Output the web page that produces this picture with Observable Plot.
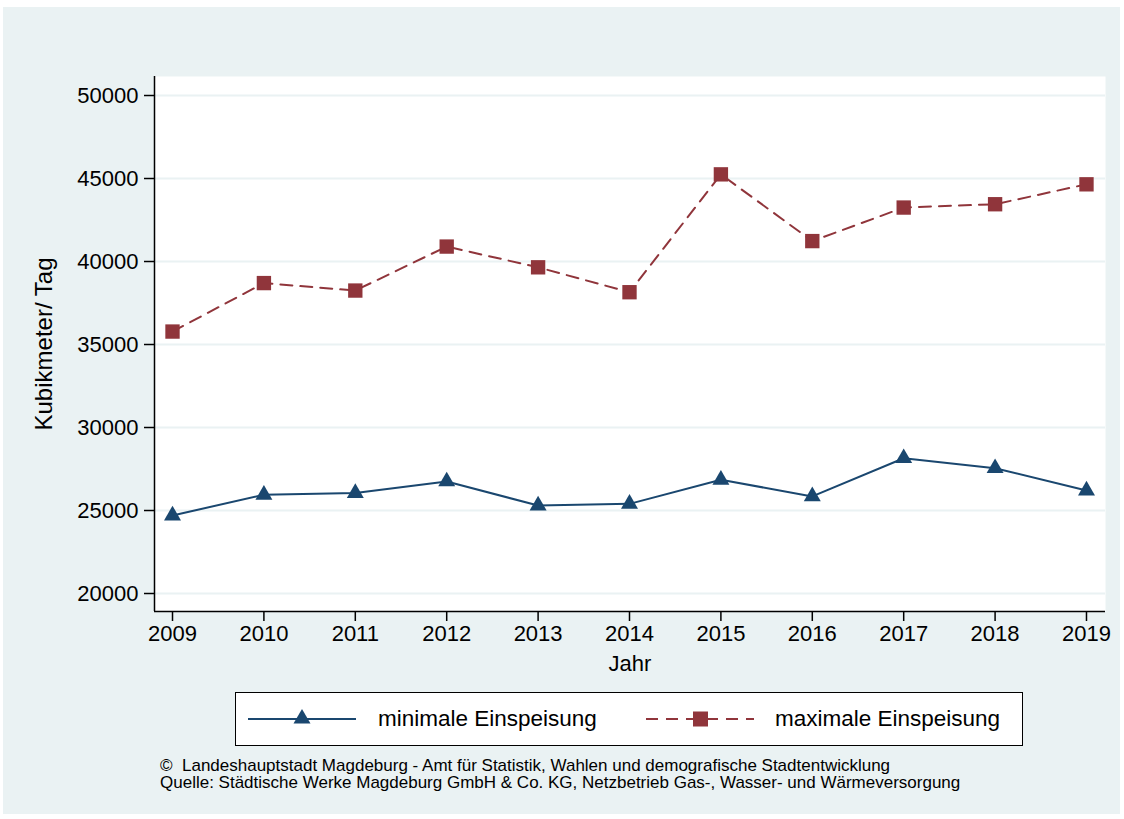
<!DOCTYPE html>
<html>
<head>
<meta charset="utf-8">
<script src="https://cdn.jsdelivr.net/npm/d3@7"></script>
<script src="https://cdn.jsdelivr.net/npm/@observablehq/plot@0.6"></script>
<style>
  body { margin:0; background:#ffffff; font-family:"Liberation Sans", Arial, Helvetica, sans-serif; }
  #panel { position:absolute; left:3px; top:7px; width:1117px; height:807px; background:#eaf2f3; }
  #chart { position:absolute; left:0; top:0; }
  #legend { position:absolute; left:235px; top:692px; width:786px; height:52px; border:1px solid #000; background:#fff; }
  #legend .item { position:absolute; top:0; height:52px; display:flex; align-items:center; font-size:22.5px; color:#000; }
  #legend svg { position:absolute; }
  #caption { position:absolute; left:160px; top:757px; font-size:17px; line-height:17px; color:#000; white-space:pre; }
</style>
</head>
<body>
<div id="panel"></div>
<div id="chart"></div>
<div id="legend"></div>
<div id="caption"></div>
<script>
const years = [2009, 2010, 2011, 2012, 2013, 2014, 2015, 2016, 2017, 2018, 2019];
const minValues = [24700, 25950, 26050, 26750, 25300, 25400, 26850, 25850, 28150, 27550, 26200];
const maxValues = [35780, 38700, 38250, 40900, 39650, 38150, 45250, 41230, 43250, 43450, 44650];
const yTicks = [20000, 25000, 30000, 35000, 40000, 45000, 50000];
const seriesNames = ["minimale Einspeisung", "maximale Einspeisung"];
const seriesColors = ["#1a476f", "#90353b"];
const xDomain = [2008.803, 2019.208];
const yDomain = [18916, 51145];
const xTitle = "Jahr";
const yTitle = "Kubikmeter/ Tag";
const captionLines = [
  "©  Landeshauptstadt Magdeburg - Amt für Statistik, Wahlen und demografische Stadtentwicklung",
  "Quelle: Städtische Werke Magdeburg GmbH & Co. KG, Netzbetrieb Gas-, Wasser- und Wärmeversorgung"
];

const minData = years.map((y, i) => ({year: y, value: minValues[i]}));
const maxData = years.map((y, i) => ({year: y, value: maxValues[i]}));

const chart = Plot.plot({
  width: 1124,
  height: 680,
  marginLeft: 154,
  marginRight: 19,
  marginTop: 76,
  marginBottom: 69,
  style: {background: "transparent", fontFamily: "'Liberation Sans', Arial, sans-serif", fontSize: "22px", color: "#000"},
  x: {domain: xDomain},
  y: {domain: yDomain},
  marks: [
    Plot.frame({fill: "white", stroke: null}),
    Plot.ruleY(yTicks, {stroke: "#eaf2f3", strokeWidth: 2}),
    Plot.ruleX([xDomain[0]], {stroke: "#000", strokeWidth: 1.5}),
    Plot.ruleY([yDomain[0]], {stroke: "#000", strokeWidth: 1.5}),
    Plot.axisX({ticks: years, tickFormat: d => String(d), tickSize: 10, tickPadding: 4, stroke: "#000", strokeWidth: 1.5,
      fontSize: 22, label: xTitle, labelAnchor: "center", labelArrow: "none", labelOffset: 59}),
    Plot.axisY({ticks: yTicks, tickFormat: d => String(d), tickSize: 10, tickPadding: 6, stroke: "#000", strokeWidth: 1.5,
      fontSize: 22, label: null}),
    Plot.axisY({ticks: [], tickSize: 0, fontSize: 24, label: yTitle, labelAnchor: "center", labelArrow: "none", labelOffset: 120}),
    Plot.line(minData, {x: "year", y: "value", stroke: seriesColors[0], strokeWidth: 2}),
    Plot.dot(minData, {x: "year", y: "value", symbol: "triangle", r: 6.3, fill: seriesColors[0], stroke: null}),
    Plot.line(maxData, {x: "year", y: "value", stroke: seriesColors[1], strokeWidth: 2, strokeDasharray: "12,8"}),
    Plot.dot(maxData, {x: "year", y: "value", symbol: "square", r: 8.1, fill: seriesColors[1], stroke: null})
  ]
});
document.getElementById("chart").appendChild(chart);

// Legend
const legend = document.getElementById("legend");
const legendItems = [
  {name: seriesNames[0], color: seriesColors[0], dash: null, sym: "tri", x0: 12, textX: 142},
  {name: seriesNames[1], color: seriesColors[1], dash: "12,8", sym: "sq", x0: 410, textX: 539}
];
legendItems.forEach(it => {
  const ns = "http://www.w3.org/2000/svg";
  const svg = document.createElementNS(ns, "svg");
  svg.setAttribute("width", 110);
  svg.setAttribute("height", 30);
  svg.style.left = it.x0 + "px";
  svg.style.top = "11px";
  const line = document.createElementNS(ns, "line");
  line.setAttribute("x1", 0); line.setAttribute("x2", 108);
  line.setAttribute("y1", 15); line.setAttribute("y2", 15);
  line.setAttribute("stroke", it.color); line.setAttribute("stroke-width", 2);
  if (it.dash) line.setAttribute("stroke-dasharray", it.dash);
  svg.appendChild(line);
  if (it.sym === "tri") {
    const p = document.createElementNS(ns, "path");
    p.setAttribute("d", "M54,5 L62.5,19.5 L45.5,19.5 Z");
    p.setAttribute("fill", it.color);
    svg.appendChild(p);
  } else {
    const r = document.createElementNS(ns, "rect");
    r.setAttribute("x", 47); r.setAttribute("y", 7.5); r.setAttribute("width", 15); r.setAttribute("height", 15);
    r.setAttribute("fill", it.color);
    svg.appendChild(r);
  }
  legend.appendChild(svg);
  const t = document.createElement("div");
  t.className = "item";
  t.style.left = it.textX + "px";
  t.textContent = it.name;
  legend.appendChild(t);
});

document.getElementById("caption").innerHTML = captionLines.map(s => "<div>" + s + "</div>").join("");
</script>
</body>
</html>
